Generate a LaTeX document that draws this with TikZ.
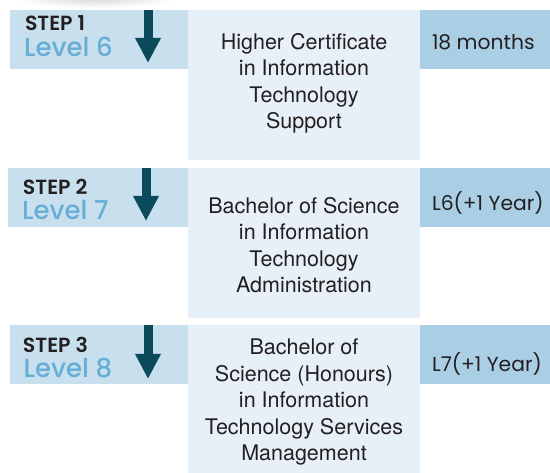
\documentclass[tikz,border=0pt]{standalone}
\usepackage{fontspec}
\usepackage{xcolor}
\usepackage{tikz}
\usetikzlibrary{arrows.meta,positioning}
\newfontfamily\stepfont{Poppins}[BoldFont={Poppins SemiBold}]
\newfontfamily\levelfont{Poppins Medium}
\newfontfamily\progfont{TeX Gyre Heros}
\definecolor{ink}{HTML}{231F20}
\definecolor{bandlight}{HTML}{C8DFEE}
\definecolor{banddark}{HTML}{AACFE5}
\definecolor{midfill}{HTML}{E7F0F8}
\definecolor{arrowteal}{HTML}{0B4A5B}
\definecolor{levelblue}{HTML}{66AED6}

\begin{document}
\begin{tikzpicture}[x=1pt,y=-1pt, every node/.style={inner sep=0pt,outer sep=0pt},
  band/.style={fill=#1,anchor=north west,minimum height=59pt},
  prog/.style={fill=midfill,anchor=north west,minimum width=232pt,minimum height=#1},
  steptxt/.style={anchor=base west,text=ink,font=\stepfont\bfseries\fontsize{20.5}{20.5}\selectfont},
  lvltxt/.style={anchor=base west,text=levelblue,font=\levelfont\fontsize{26}{26}\selectfont},
  dur/.style={anchor=base west,text=ink,font=\stepfont\fontsize{20.3}{20.3}\selectfont},
  title/.style={anchor=north,align=center,text=ink,font=\progfont\fontsize{21.5}{26.5}\selectfont},
  down/.style={-{Triangle[width=24pt,length=25pt]},draw=arrowteal,line width=9pt}]
  \useasboundingbox (0,0) rectangle (550,473);
  \shade[inner color=black!16,outer color=white] (95,-2) ellipse [x radius=82, y radius=10];
  % step 1
  \node[band=bandlight,minimum width=180pt] (lvl1) at (10,10) {};
  \node[band=banddark,minimum width=130pt] (dur1) at (420,10) {};
  \node[prog=150pt] (prog1) at (188,10) {};
  \node[steptxt] (step1) at (25,31) {STEP 1};
  \node[lvltxt] (level1) at (24,57) {Level 6};
  \node[title] (title1) at (304,33) {Higher Certificate\\in Information\\Technology\\Support};
  \node[dur] (time1) at (432,50) {18 months};
  \coordinate (top1) at (148,10);
  \coordinate (tip1) at (148,63);
  \draw[down] (top1)--(tip1);
  % step 2
  \node[band=bandlight,minimum width=182pt] (lvl2) at (8,168) {};
  \node[band=banddark,minimum width=130pt] (dur2) at (420,168) {};
  \node[prog=150pt] (prog2) at (188,168) {};
  \node[steptxt] (step2) at (23,195) {STEP 2};
  \node[lvltxt] (level2) at (22,219.5) {Level 7};
  \node[title] (title2) at (304,197) {Bachelor of Science\\in Information\\Technology\\Administration};
  \node[dur] (time2) at (432,211) {L6(+1 Year)};
  \coordinate (top2) at (146,168);
  \coordinate (tip2) at (146,221);
  \draw[down] (top2)--(tip2);
  % step 3
  \node[band=bandlight,minimum width=180pt] (lvl3) at (10,325) {};
  \node[band=banddark,minimum width=130pt] (dur3) at (420,325) {};
  \node[prog=148pt] (prog3) at (188,325) {};
  \node[steptxt] (step3) at (23,353) {STEP 3};
  \node[lvltxt] (level3) at (23.5,378) {Level 8};
  \node[title] (title3) at (304,339) {Bachelor of\\Science (Honours)\\in Information\\Technology Services\\Management};
  \node[dur] (time3) at (432,372) {L7(+1 Year)};
  \coordinate (top3) at (148,325);
  \coordinate (tip3) at (148,379);
  \draw[down] (top3)--(tip3);
\end{tikzpicture}
\end{document}
